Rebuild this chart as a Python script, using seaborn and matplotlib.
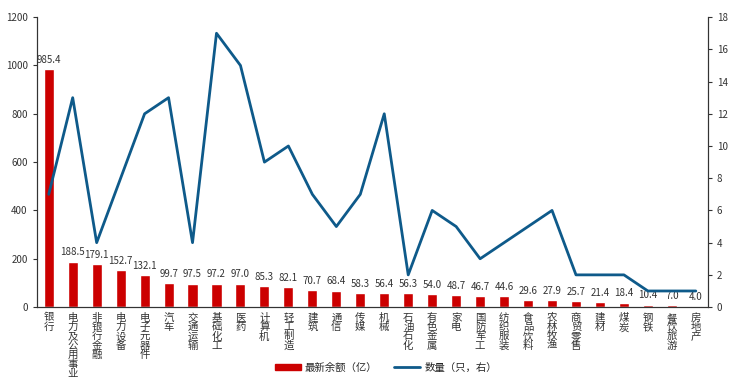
import pandas as pd
import numpy as np
import seaborn as sns
from matplotlib import pyplot as plt
from matplotlib.patches import Patch
from matplotlib.lines import Line2D

# industries, latest balance (亿) and count (只)
industries = ["银行", "电力及公用事业", "非银行金融", "电力设备", "电子元器件", "汽车", "交通运输",
              "基础化工", "医药", "计算机", "轻工制造", "建筑", "通信", "传媒", "机械", "石油石化",
              "有色金属", "家电", "国防军工", "纺织服装", "食品饮料", "农林牧渔", "商贸零售", "建材",
              "煤炭", "钢铁", "餐饮旅游", "房地产"]
balance = [985.4, 188.5, 179.1, 152.7, 132.1, 99.7, 97.5, 97.2, 97.0, 85.3, 82.1, 70.7, 68.4, 58.3,
           56.4, 56.3, 54.0, 48.7, 46.7, 44.6, 29.6, 27.9, 25.7, 21.4, 18.4, 10.4, 7.0, 4.0]
count = [7, 13, 4, 8, 12, 13, 4, 17, 15, 9, 10, 7, 5, 7, 12, 2, 6, 5, 3, 4, 5, 6, 2, 2, 2, 1, 1, 1]

df = pd.DataFrame({"industry": industries, "balance": balance, "count": count})

sns.set_style("white")
plt.rcParams["font.family"] = ["Noto Sans CJK SC", "DejaVu Sans"]

bar_color = "#CC0000"
line_color = "#0E5A8A"

fig = plt.figure(figsize=(7.35, 3.81), dpi=100)
ax = fig.add_axes([0.050, 0.194, 0.913, 0.761])

sns.barplot(df, x="industry", y="balance", color=bar_color, width=0.42,
            saturation=1, ax=ax)
ax.bar_label(ax.containers[0], fmt="%.1f", fontsize=7, color="#333333", padding=3)

ax.set_ylim(0, 1200)
ax.set_yticks(np.arange(0, 1201, 200))
ax.set_xlim(-0.5, len(industries) - 0.5)
ax.set_xlabel("")
ax.set_ylabel("")
ax.set_xticks(range(len(industries)))
ax.set_xticklabels(["\n".join(s) for s in industries], fontsize=7.5,
                   linespacing=0.92, va="top", color="#333333")
ax.tick_params(axis="x", length=0, pad=4)
# small ticks between categories
ax.set_xticks(np.arange(-0.5, len(industries), 1), minor=True)
ax.tick_params(axis="x", which="minor", length=3, direction="in", color="#333333")
ax.tick_params(axis="y", labelsize=7, length=3, direction="out", left=True,
               color="#333333", labelcolor="#333333")

ax2 = ax.twinx()
sns.lineplot(df, x="industry", y="count", color=line_color, linewidth=2, ax=ax2)
ax2.set_ylim(0, 18)
ax2.set_yticks(np.arange(0, 19, 2))
ax2.set_ylabel("")
ax2.tick_params(axis="y", labelsize=7, length=3, direction="out", right=True,
                color="#333333", labelcolor="#333333")

for a in (ax, ax2):
    a.spines["top"].set_visible(False)
    for side in ("left", "right", "bottom"):
        a.spines[side].set_color("#333333")
        a.spines[side].set_linewidth(0.8)
    a.grid(False)

handles = [Patch(color=bar_color), Line2D([0], [0], color=line_color, linewidth=2)]
fig.legend(handles, ["最新余额（亿）", "数量（只，右）"], loc="center",
           bbox_to_anchor=(0.525, 0.035), ncol=2, frameon=False, fontsize=7.5,
           handlelength=2.5, handleheight=0.5, handletextpad=0.4, columnspacing=1.6)

fig.savefig("out.png", dpi=100)
